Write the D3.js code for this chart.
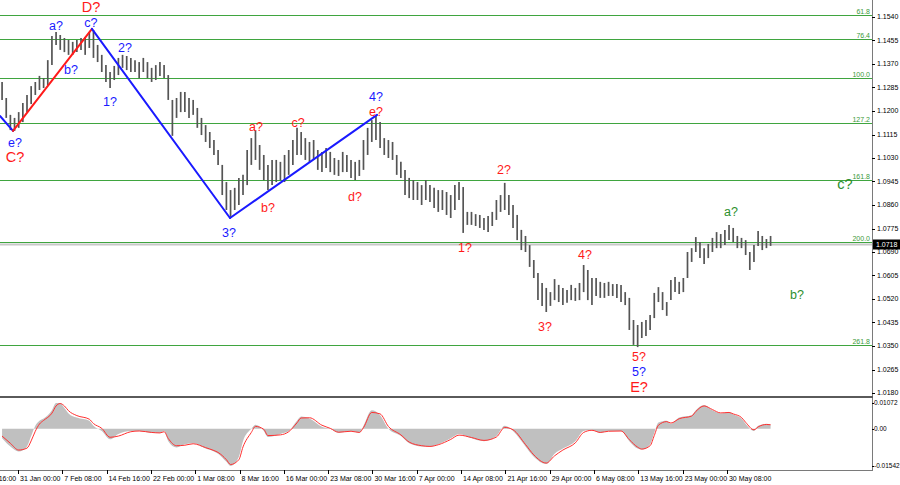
<!DOCTYPE html>
<html><head><meta charset="utf-8">
<script src="https://cdn.jsdelivr.net/npm/d3@7"></script>
<style>body{margin:0;background:#fff;} svg{display:block;}</style>
</head><body>
<svg id="c" width="900" height="485"></svg>
<script>
// ---- data ----
const highs = [1.1305,1.1247,1.1186,1.1175,1.1196,1.1229,1.1258,1.1290,1.1305,1.1327,
1.1319,1.1384,1.1471,1.1486,1.1475,1.1464,1.1457,1.1450,1.1457,1.1464,
1.1468,1.1486,1.1493,1.1439,1.1403,1.1366,1.1341,1.1363,1.1392,1.1403,
1.1399,1.1392,1.1384,1.1377,1.1392,1.1377,1.1356,1.1366,1.1377,1.1366,
1.1330,1.1240,1.1247,1.1269,1.1269,1.1247,1.1240,1.1211,1.1175,1.1149,
1.1124,1.1095,1.1059,1.1005,1.0943,1.0914,1.0922,1.0958,1.0969,1.1059,
1.1102,1.1131,1.1077,1.1041,1.1005,1.1023,1.1023,1.1016,1.1041,1.1059,
1.1095,1.1139,1.1124,1.1102,1.1088,1.1095,1.1059,1.1052,1.1066,1.1052,
1.1030,1.1023,1.1052,1.1041,1.1023,1.1016,1.1023,1.1095,1.1139,1.1167,
1.1186,1.1160,1.1102,1.1095,1.1088,1.1041,1.1016,1.0987,1.0958,1.0950,
1.0943,1.0932,1.0950,1.0932,1.0922,1.0914,1.0914,1.0907,1.0896,1.0932,
1.0943,1.0925,1.0835,1.0835,1.0827,1.0824,1.0813,1.0820,1.0835,1.0878,
1.0896,1.0940,1.0896,1.0860,1.0824,1.0770,1.0748,1.0715,1.0661,1.0614,
1.0578,1.0560,1.0545,1.0592,1.0571,1.0560,1.0553,1.0571,1.0560,1.0578,
1.0643,1.0625,1.0596,1.0596,1.0582,1.0578,1.0582,1.0574,1.0574,1.0571,
1.0545,1.0524,1.0444,1.0426,1.0437,1.0444,1.0462,1.0542,1.0563,1.0545,
1.0509,1.0589,1.0600,1.0582,1.0596,1.0690,1.0704,1.0744,1.0726,1.0704,
1.0719,1.0741,1.0762,1.0755,1.0770,1.0788,1.0777,1.0748,1.0741,1.0733,
1.0690,1.0715,1.0766,1.0748,1.0737,1.0748];
const lows = [1.1240,1.1175,1.1131,1.1128,1.1139,1.1160,1.1196,1.1225,1.1258,1.1276,
1.1283,1.1294,1.1366,1.1439,1.1421,1.1413,1.1403,1.1403,1.1413,1.1421,
1.1403,1.1428,1.1392,1.1377,1.1341,1.1305,1.1283,1.1312,1.1330,1.1356,
1.1348,1.1341,1.1341,1.1319,1.1341,1.1319,1.1305,1.1312,1.1327,1.1319,
1.1240,1.1110,1.1175,1.1196,1.1196,1.1175,1.1186,1.1139,1.1113,1.1088,
1.1066,1.1041,1.1005,1.0896,1.0842,1.0817,1.0842,1.0860,1.0896,1.0932,
1.1005,1.1023,1.0987,1.0950,1.0914,1.0932,1.0943,1.0950,1.0943,1.0969,
1.1005,1.1041,1.1041,1.1023,1.1016,1.1023,1.0987,1.0979,1.0994,1.0979,
1.0969,1.0965,1.0979,1.0979,1.0958,1.0950,1.0965,1.0987,1.1041,1.1088,
1.1095,1.1066,1.1041,1.1030,1.1023,1.0969,1.0958,1.0896,1.0885,1.0878,
1.0878,1.0860,1.0878,1.0871,1.0849,1.0835,1.0842,1.0824,1.0813,1.0842,
1.0878,1.0759,1.0788,1.0788,1.0784,1.0777,1.0770,1.0762,1.0784,1.0806,
1.0835,1.0842,1.0824,1.0777,1.0733,1.0697,1.0690,1.0636,1.0596,1.0516,
1.0495,1.0473,1.0495,1.0516,1.0509,1.0498,1.0506,1.0516,1.0513,1.0516,
1.0545,1.0516,1.0498,1.0531,1.0524,1.0524,1.0531,1.0531,1.0524,1.0509,
1.0498,1.0408,1.0354,1.0346,1.0379,1.0386,1.0408,1.0451,1.0509,1.0480,
1.0459,1.0516,1.0545,1.0538,1.0545,1.0596,1.0654,1.0690,1.0668,1.0647,
1.0668,1.0690,1.0704,1.0704,1.0715,1.0733,1.0726,1.0704,1.0704,1.0679,
1.0625,1.0654,1.0712,1.0697,1.0704,1.0712];
const barsPerCandle = 3; // each drawn bar spans 3 H4 periods

const fibLevels = [1.1547,1.1460,1.1319,1.1157,1.0951,1.0726,1.0355];
const fibNames = ["61.8","76.4","100.0","127.2","161.8","200.0","261.8"];
const priceTicks = [1.0180,1.0265,1.0350,1.0435,1.0520,1.0605,1.0690,1.0775,1.0860,1.0945,1.1030,1.1115,1.1200,1.1285,1.1370,1.1455,1.1540];
const lastPrice = 1.0718;

const timeTickBars = [-19,13,45,77,109,141,173,205,237,269,301,333,365,397,429,461,493,525];
const timeTickLabels = ["21 Jan 16:00","31 Jan 00:00","7 Feb 08:00","14 Feb 16:00","22 Feb 00:00","1 Mar 08:00","8 Mar 16:00","16 Mar 00:00","23 Mar 08:00","30 Mar 16:00","7 Apr 00:00","14 Apr 08:00","21 Apr 16:00","29 Apr 00:00","6 May 08:00","13 May 16:00","23 May 00:00","30 May 08:00"];

const oscIdx = [0,2,4,6,7,8,9,10,12,13,14,15,16,18,21,22,24,26,28,31,33,36,38,39,40,42,44,46,49,51,52,54,55,57,58,60,61,63,64,67,69,71,72,74,77,79,81,84,86,87,89,91,93,96,98,101,103,105,108,110,113,116,119,121,123,126,128,131,133,135,138,140,142,144,146,149,151,153,154,156,157,158,160,161,163,166,167,169,171,173,175,176,178,179,181,182,184,185];
const oscValues = [-0.0039,-0.0073,-0.0094,-0.0073,-0.0030,0.0013,0.0034,0.0043,0.0077,0.0107,0.0107,0.0086,0.0064,0.0047,0.0034,0.0013,-0.0009,-0.0043,-0.0021,-0.0009,-0.0009,-0.0017,-0.0017,-0.0009,-0.0051,-0.0077,-0.0064,-0.0060,-0.0082,-0.0094,-0.0103,-0.0137,-0.0154,-0.0116,-0.0051,0.0000,0.0017,-0.0009,-0.0034,-0.0021,-0.0009,0.0034,0.0051,0.0043,0.0009,0.0000,-0.0017,-0.0009,-0.0017,0.0013,0.0077,0.0056,0.0000,-0.0030,-0.0060,-0.0073,-0.0073,-0.0064,-0.0039,-0.0021,-0.0039,-0.0051,-0.0030,0.0013,-0.0009,-0.0073,-0.0116,-0.0146,-0.0103,-0.0082,-0.0051,-0.0009,-0.0004,-0.0017,-0.0009,-0.0009,-0.0051,-0.0082,-0.0086,-0.0064,-0.0017,0.0026,0.0034,0.0021,0.0047,0.0056,0.0077,0.0099,0.0077,0.0064,0.0069,0.0060,0.0043,0.0021,-0.0009,0.0013,0.0021,0.0017];
const sigValues = [-0.0030,-0.0060,-0.0088,-0.0080,-0.0050,-0.0010,0.0020,0.0035,0.0065,0.0095,0.0105,0.0095,0.0075,0.0055,0.0040,0.0022,0.0002,-0.0035,-0.0030,-0.0012,-0.0009,-0.0015,-0.0017,-0.0012,-0.0040,-0.0070,-0.0068,-0.0062,-0.0078,-0.0090,-0.0098,-0.0128,-0.0148,-0.0128,-0.0075,-0.0015,0.0010,-0.0002,-0.0028,-0.0025,-0.0012,0.0025,0.0045,0.0046,0.0015,0.0002,-0.0014,-0.0010,-0.0015,0.0005,0.0068,0.0062,0.0010,-0.0025,-0.0055,-0.0070,-0.0073,-0.0066,-0.0044,-0.0026,-0.0036,-0.0048,-0.0034,0.0006,-0.0004,-0.0065,-0.0108,-0.0142,-0.0112,-0.0088,-0.0058,-0.0015,-0.0006,-0.0015,-0.0010,-0.0009,-0.0045,-0.0076,-0.0084,-0.0070,-0.0028,0.0015,0.0030,0.0024,0.0042,0.0053,0.0072,0.0095,0.0080,0.0066,0.0068,0.0062,0.0047,0.0027,-0.0004,0.0008,0.0018,0.0017];
const oscTicks = [0.01072, 0, -0.01542];
const oscTickLabels = ["0.01072","0.00","-0.01542"];

// wave zigzag (H4 bar index, price)
const waveBars = [0, 9.4, 66.4, 166.1, 272.3];
const wavePrices = [1.1182, 1.1128, 1.1497, 1.0813, 1.1186];
const waveSegColors = ["blue","red","blue","blue"];

// wave labels
const labelTexts  = ["D?","c?","a?","b?","2?","1?","e?","C?","3?","a?","b?","c?","d?","4?","e?","1?","2?","3?","4?","5?","5?","E?","a?","b?","c?"];
const labelBars   = [65.7,65.7,40.4,51.3,90.3,79.4,10.8,10.8,165.4,184.9,193.5,215.2,256.4,271.5,271.5,335.8,364,393.6,422.5,461.5,461.5,461.5,527.9,575.6,610.2];
const labelPrices = [1.1575,1.1518,1.1508,1.1348,1.1428,1.1233,1.1086,1.1033,1.0759,1.1142,1.0849,1.1157,1.0889,1.1251,1.1198,1.0704,1.0987,1.0419,1.0679,1.0309,1.0256,1.0201,1.0835,1.0535,1.0936];
const labelColors = ["red","blue","blue","blue","blue","blue","blue","red","blue","red","red","red","red","blue","red","red","red","red","red","red","blue","red","green","green","green"];
const labelBig    = [1,0,0,0,0,0,0,1,0,0,0,0,0,0,0,0,0,0,0,0,0,1,0,0,1];

// ---- drawing ----
const plotRight = 872, mainTop = 0, mainBottom = 397, oscTop = 398, oscBottom = 470;
const colors = {blue:"#1a1aff", red:"#ff1a1a", green:"#2d8f2d"};
const svg = d3.select("#c");
const font = "Liberation Sans, Arial, sans-serif";

const x = d3.scaleLinear().domain([0, 628.3]).range([0, 870]);
const y = d3.scaleLinear().domain([1.0180, 1.1540]).range([393, 17]);
const yo = d3.scaleLinear().domain([-0.01542, 0.01072]).range([466, 403]);
const candleX = i => x(barsPerCandle * i + barsPerCandle / 2);

const defs = svg.append("defs");
defs.append("clipPath").attr("id","cm").append("rect").attr("x",0).attr("y",mainTop).attr("width",plotRight).attr("height",mainBottom-mainTop);
defs.append("clipPath").attr("id","co").append("rect").attr("x",0).attr("y",oscTop).attr("width",plotRight).attr("height",oscBottom-oscTop);

const main = svg.append("g").attr("clip-path","url(#cm)");

// bid line
main.append("line").attr("x1",0).attr("x2",plotRight).attr("y1",Math.round(y(lastPrice))+0.5).attr("y2",Math.round(y(lastPrice))+0.5)
  .attr("stroke","#c8c8c8").attr("stroke-width",2);

// fib lines
main.selectAll(".fib").data(fibLevels).join("line")
  .attr("x1",0).attr("x2",plotRight).attr("y1",d=>Math.round(y(d))+0.5).attr("y2",d=>Math.round(y(d))+0.5)
  .attr("stroke","#3fa53f").attr("stroke-width",1);
main.selectAll(".fibt").data(fibLevels).join("text")
  .attr("x",plotRight-2).attr("y",d=>Math.round(y(d))-1.5).attr("text-anchor","end")
  .attr("font-family",font).attr("font-size",7).attr("fill","#3a9a3a")
  .text((d,i)=>fibNames[i]);

// bars
main.selectAll(".bar").data(highs).join("line")
  .attr("x1",(d,i)=>candleX(i)).attr("x2",(d,i)=>candleX(i))
  .attr("y1",d=>y(d)).attr("y2",(d,i)=>y(lows[i]))
  .attr("stroke","#555").attr("stroke-width",1.7);

// zigzag
for (let k=0;k<waveSegColors.length;k++){
  main.append("line")
    .attr("x1",x(waveBars[k])).attr("y1",y(wavePrices[k]))
    .attr("x2",x(waveBars[k+1])).attr("y2",y(wavePrices[k+1]))
    .attr("stroke",colors[waveSegColors[k]]).attr("stroke-width",2).attr("stroke-linecap","round");
}

// labels
main.selectAll(".lab").data(labelTexts).join("text")
  .attr("x",(d,i)=>x(labelBars[i])).attr("y",(d,i)=>y(labelPrices[i]))
  .attr("text-anchor","middle").attr("dominant-baseline","central")
  .attr("font-family",font).attr("font-size",(d,i)=>labelBig[i]?14.5:12.5)
  .attr("fill",(d,i)=>colors[labelColors[i]])
  .text(d=>d);

// oscillator
const osc = svg.append("g").attr("clip-path","url(#co)");
const oscData = oscIdx.map((b,k)=>({b, v:oscValues[k], s:sigValues[k]}));
osc.append("path").datum(oscData)
  .attr("d", d3.area().x(d=>candleX(d.b)).y0(yo(0)).y1(d=>yo(d.v)).curve(d3.curveMonotoneX))
  .attr("fill","#c0c0c0");
osc.append("path").datum(oscData)
  .attr("d", d3.line().x(d=>candleX(d.b)).y(d=>yo(d.s)).curve(d3.curveMonotoneX))
  .attr("fill","none").attr("stroke","#ff3030").attr("stroke-width",1);

// frame
svg.append("line").attr("x1",plotRight+0.5).attr("x2",plotRight+0.5).attr("y1",0).attr("y2",oscBottom)
  .attr("stroke","#7a7a7a").attr("stroke-width",1);
svg.append("line").attr("x1",0).attr("x2",plotRight+1).attr("y1",mainBottom).attr("y2",mainBottom)
  .attr("stroke","#5a5a5a").attr("stroke-width",2);
svg.append("line").attr("x1",0).attr("x2",plotRight+1).attr("y1",oscBottom+0.5).attr("y2",oscBottom+0.5)
  .attr("stroke","#7a7a7a").attr("stroke-width",1);

// price axis
const pa = svg.append("g");
pa.selectAll("line").data(priceTicks).join("line")
  .attr("x1",plotRight).attr("x2",plotRight+3).attr("y1",d=>Math.round(y(d))+0.5).attr("y2",d=>Math.round(y(d))+0.5)
  .attr("stroke","#000");
pa.selectAll("text").data(priceTicks).join("text")
  .attr("x",plotRight+5).attr("y",d=>y(d)).attr("dy","0.35em")
  .attr("font-family",font).attr("font-size",7).attr("fill","#000")
  .text(d=>d.toFixed(4));

// current price tag
const ly = Math.round(y(lastPrice));
svg.append("rect").attr("x",plotRight+1).attr("y",ly-4.5).attr("width",27).attr("height",10).attr("fill","#000");
svg.append("text").attr("x",plotRight+4).attr("y",ly+0.5).attr("dy","0.35em")
  .attr("font-family",font).attr("font-size",7).attr("fill","#fff").text(lastPrice.toFixed(4));

// oscillator axis
svg.selectAll(".ot").data(oscTicks).join("text")
  .attr("x",plotRight+2).attr("y",d=>yo(d)).attr("dy","0.35em")
  .attr("font-family",font).attr("font-size",6.5).attr("fill","#000")
  .text((d,i)=>oscTickLabels[i]);
svg.selectAll(".otl").data(oscTicks).join("line")
  .attr("x1",plotRight).attr("x2",plotRight+2).attr("y1",d=>Math.round(yo(d))+0.5).attr("y2",d=>Math.round(yo(d))+0.5)
  .attr("stroke","#000");

// time axis
const ta = svg.append("g");
ta.selectAll("line").data(timeTickBars).join("line")
  .attr("x1",d=>Math.round(x(d))+0.5).attr("x2",d=>Math.round(x(d))+0.5)
  .attr("y1",oscBottom).attr("y2",oscBottom+4).attr("stroke","#000");
ta.selectAll("text").data(timeTickBars).join("text")
  .attr("x",d=>x(d)+2).attr("y",479).attr("dy","0.35em")
  .attr("font-family",font).attr("font-size",7).attr("fill","#000")
  .text((d,i)=>timeTickLabels[i]);
</script>
</body></html>
